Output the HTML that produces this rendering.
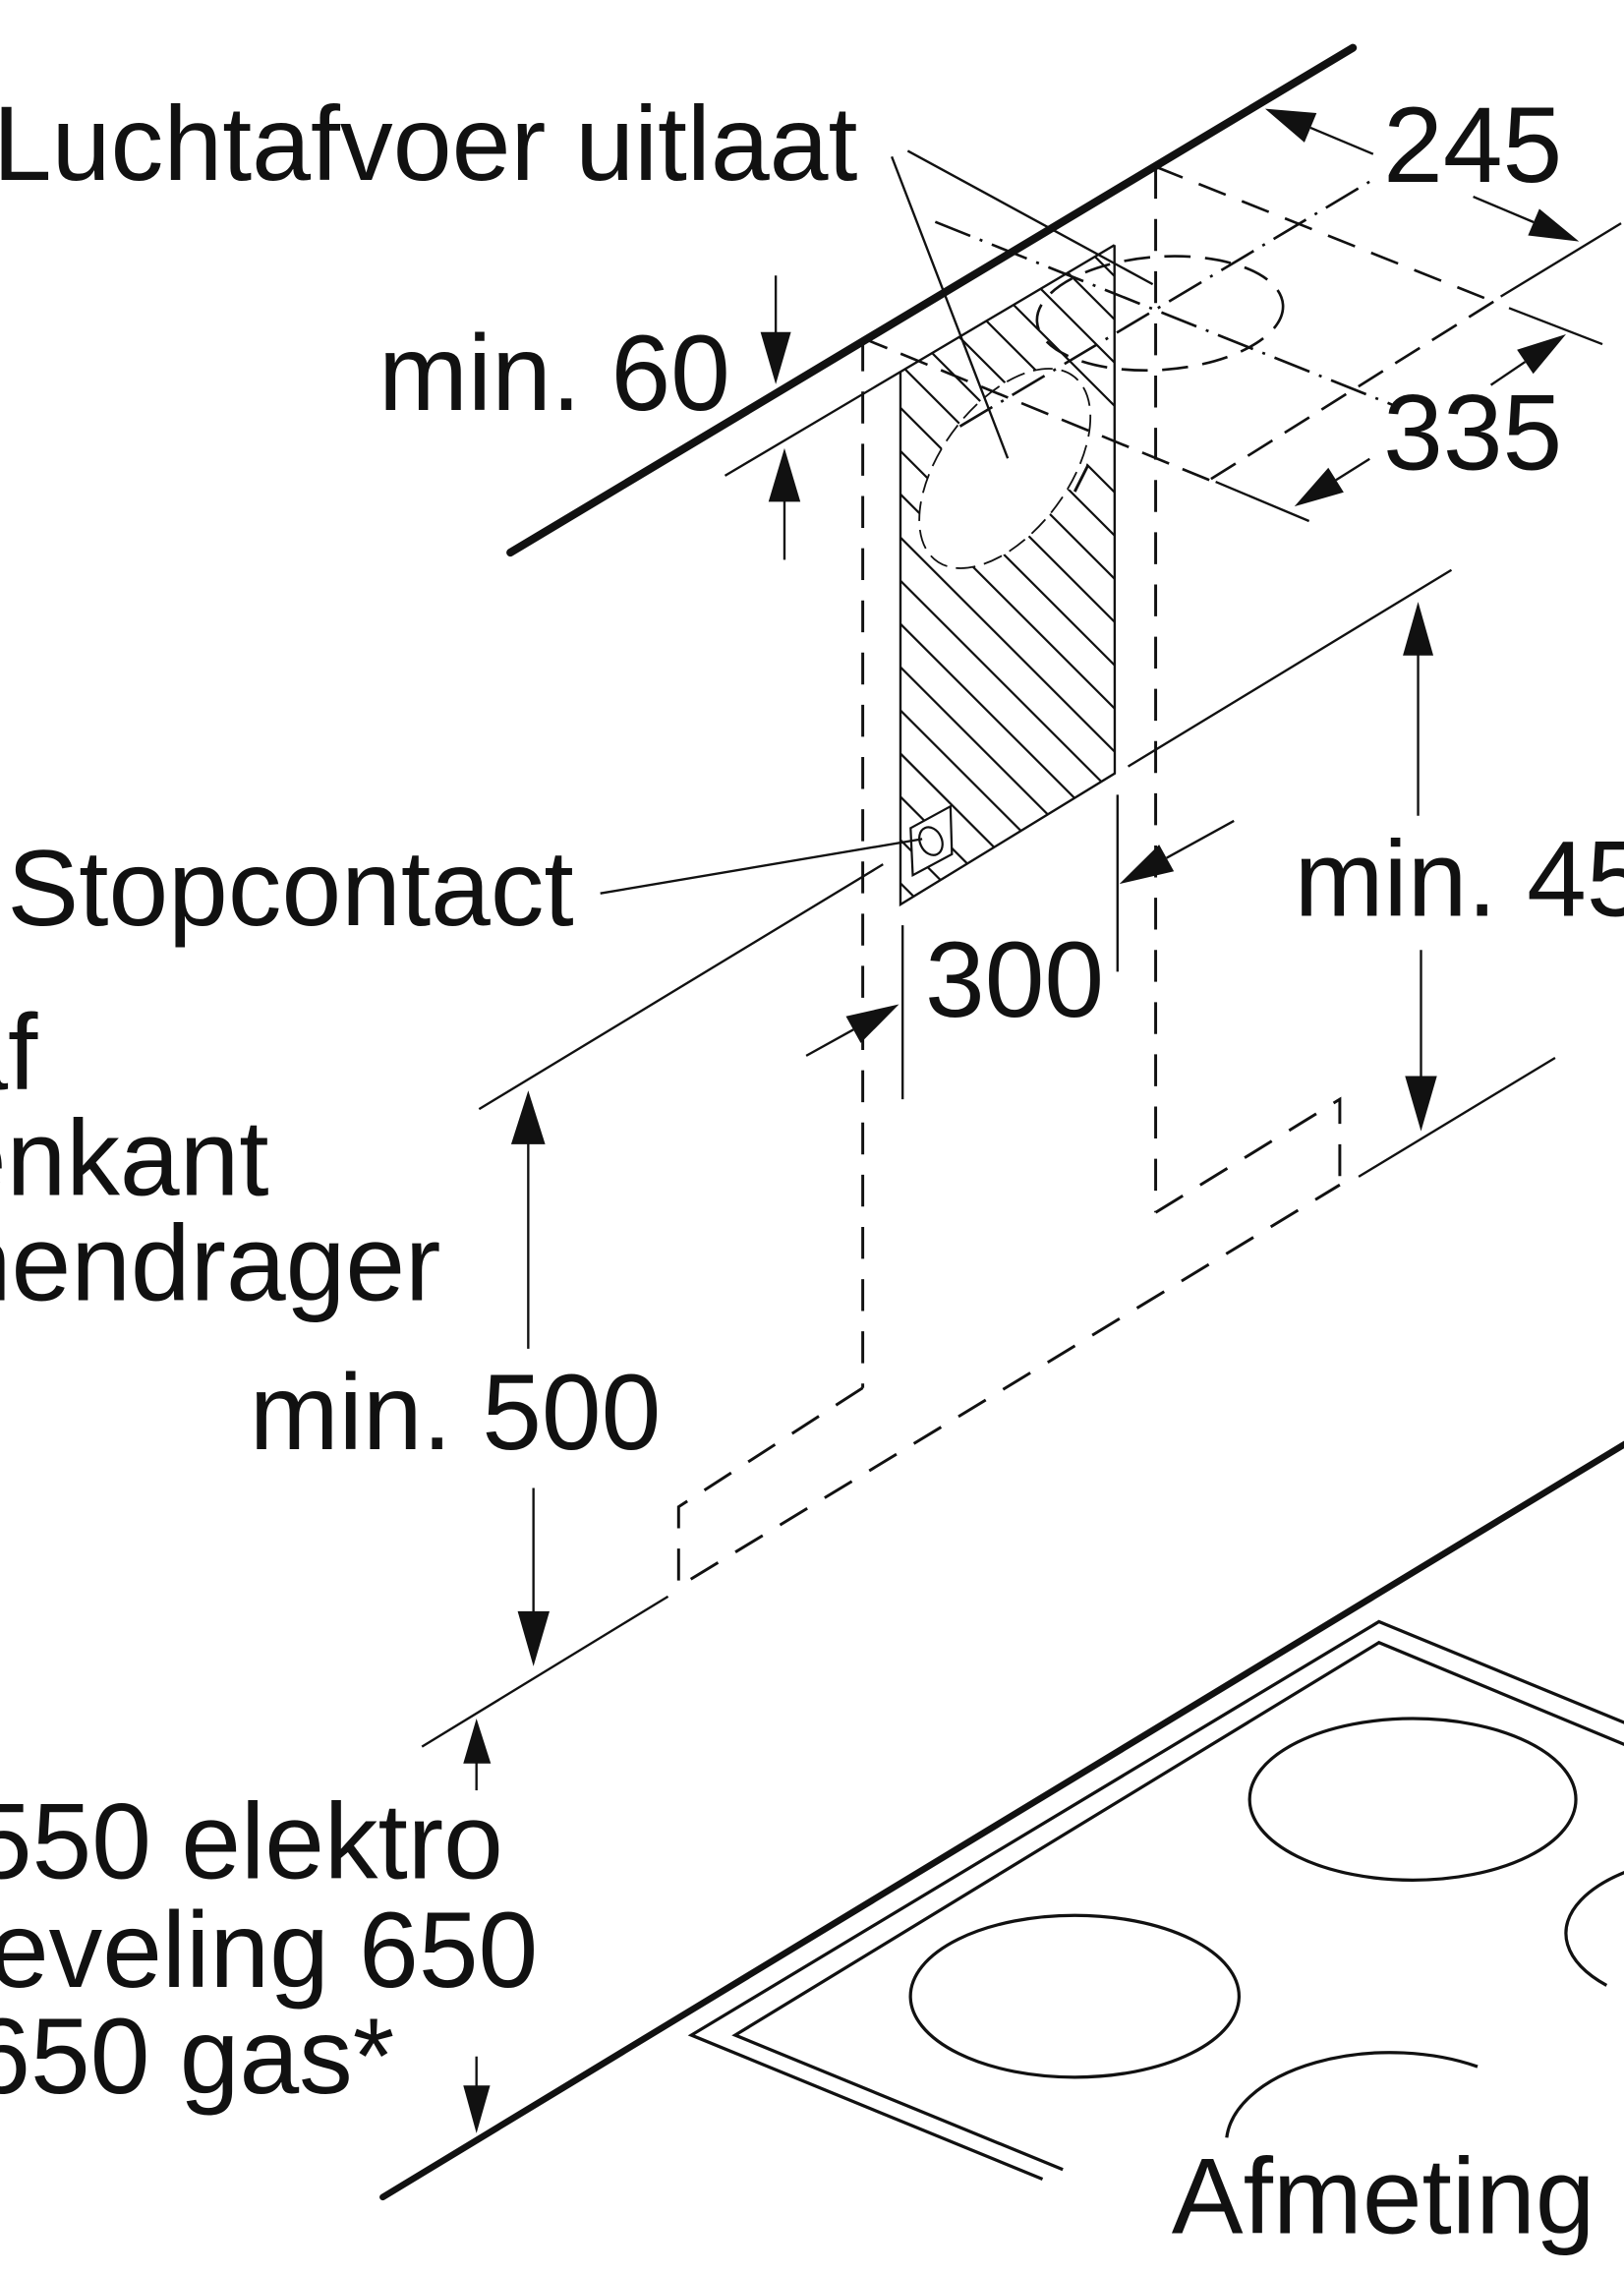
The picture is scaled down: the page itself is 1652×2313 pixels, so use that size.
<!DOCTYPE html>
<html>
<head>
<meta charset="utf-8">
<style>
html,body{margin:0;padding:0;background:#fff;}
svg{display:block;}
text{font-family:"Liberation Sans",Arial,Helvetica,sans-serif;fill:#111;}
</style>
</head>
<body>
<svg xmlns="http://www.w3.org/2000/svg" width="1652" height="2313" viewBox="0 0 1120 1568" preserveAspectRatio="none">
<defs>
  <clipPath id="panel"><polygon points="621,256.5 768.6,169 768.8,533.3 621,623.7"/></clipPath>
  <mask id="hm" maskUnits="userSpaceOnUse" x="0" y="0" width="1120" height="1568">
    <rect x="0" y="0" width="1120" height="1568" fill="#fff"/>
    <circle r="59" transform="matrix(1,-0.6,0,1,693,323)" fill="#000"/>
    <polygon points="735,249.6 768.6,282.5 768.6,336 750.3,318 741.2,338 728,336" fill="#000"/>
    <polygon points="628,571 655.5,556 656.5,589 629.5,603.5" fill="#000"/>
  </mask>
</defs>

<rect x="0" y="0" width="1120" height="1568" fill="#fff"/>

<!-- hatching -->
<g clip-path="url(#panel)">
<g mask="url(#hm)" stroke="#111" stroke-width="1.5" fill="none">
<path d="M600 21.8L790 211.8M600 51.6L790 241.6M600 81.4L790 271.4M600 111.2L790 301.2M600 141L790 331M600 170.8L790 360.8M600 200.6L790 390.6M600 230.4L790 420.4M600 260.2L790 450.2M600 290L790 480M600 319.8L790 509.8M600 349.6L790 539.6M600 379.4L790 569.4M600 409.2L790 599.2M600 439L790 629M600 468.8L790 658.8M600 498.6L790 688.6M600 528.4L790 718.4M600 558.2L790 748.2M600 588L790 778"/>
</g>
</g>

<!-- panel outline -->
<g stroke="#111" stroke-width="1.6" fill="none">
  <polyline points="768.6,169 768.8,533.3 621,623.7 621,256.5"/>
  <path d="M500 328L768.6 169"/>
  <path d="M741.2 339L750.3 320.9" stroke-width="2"/>
</g>

<!-- socket -->
<g stroke="#111" stroke-width="1.5" fill="#fff">
  <polygon points="628,571 655.5,556 656.5,589 629.5,603.5"/>
  <ellipse cx="642" cy="580" rx="7.5" ry="10" transform="rotate(-25 642 580)"/>
</g>

<!-- thick lines -->
<g stroke="#111" fill="none" stroke-linecap="round">
  <path d="M352 381L933 33" stroke-width="5.5"/>
  <path d="M264 1515L1130 990" stroke-width="4.5"/>
</g>

<!-- dashed hood outline -->
<g stroke="#111" stroke-width="2" fill="none" stroke-dasharray="22 14">
  <path d="M595 234V957"/>
  <path d="M797 115V836"/>
  <path d="M595 957L468 1039V1094L924 817"/>
  <path d="M797 836L924 758V817"/>
</g>

<!-- ceiling construction -->
<g stroke="#111" stroke-width="1.8" fill="none">
  <path d="M797 115L1030 208" stroke-dasharray="20 12"/>
  <path d="M1030 208L834 331" stroke-dasharray="20 10"/>
  <path d="M834 331L597 234" stroke-dasharray="20 10"/>
  <path d="M662 294L945 125" stroke-dasharray="26 7 2 7"/>
  <path d="M645 153L960 279" stroke-dasharray="26 7 2 7"/>
  <ellipse cx="800" cy="216" rx="85" ry="39" transform="rotate(-4 800 216)" stroke-dasharray="18 10"/>
  <circle r="59" transform="matrix(1,-0.6,0,1,693,323)" stroke-dasharray="20 9" vector-effect="non-scaling-stroke"/>
</g>

<!-- thin solid lines: leaders, extension lines, arrow shafts -->
<g stroke="#111" stroke-width="1.6" fill="none">
  <path d="M535 190L535 230"/>
  <path d="M541 386L541 345"/>
  <path d="M615 108L695 316"/>
  <path d="M626 104L795 196"/>
  <path d="M947 106.2L903.8 88.1"/>
  <path d="M1016 135.6L1057.7 153.2"/>
  <path d="M1035 204.5L1118 154"/>
  <path d="M1040.7 212.4L1105.1 237.3"/>
  <path d="M838.4 332.2L902.8 359.3"/>
  <path d="M1028.2 265.5L1051.8 249.5"/>
  <path d="M944.6 316.4L921.4 331"/>
  <path d="M778 528.5L1001 393"/>
  <path d="M937 811.4L1072.5 729.4"/>
  <path d="M978 562.5L978 450"/>
  <path d="M980 655L980 743"/>
  <path d="M414 616L636 578.5"/>
  <path d="M330.4 764.8L609 596"/>
  <path d="M291 1204.4L460.7 1100.8"/>
  <path d="M364.3 930L364.3 787"/>
  <path d="M367.9 1026L367.9 1112"/>
  <path d="M622.5 638L622.5 758"/>
  <path d="M770.7 548L770.7 670"/>
  <path d="M556 728L588.5 710"/>
  <path d="M851 566L804.5 591.6"/>
  <path d="M328.6 1234.5L328.6 1214"/>
  <path d="M328.6 1418L328.6 1440"/>
</g>

<!-- arrowheads -->
<g fill="#111" stroke="none">
  <polygon points="535,265 524.5,229 545.5,229"/>
  <polygon points="541,309 530,346 552,346"/>
  <polygon points="872.5,75 908,78 899.6,98.2"/>
  <polygon points="1089,166.5 1053.8,162.4 1061.6,144"/>
  <polygon points="1080,230.5 1057.4,257.8 1046.2,241.2"/>
  <polygon points="892.7,349.2 926.7,339.5 916.1,322.5"/>
  <polygon points="978,415 967.5,452 988.5,452"/>
  <polygon points="980,780 969,742 991,742"/>
  <polygon points="620,692.5 593.6,719.2 583.4,700.8"/>
  <polygon points="772,609.5 809.6,600.8 799.4,582.4"/>
  <polygon points="364.3,752 352.5,789 376,789"/>
  <polygon points="367.9,1149 357,1111 379,1111"/>
  <polygon points="328.6,1185 319.5,1216 338.5,1216"/>
  <polygon points="328.6,1471 319.5,1438 338,1438"/>
</g>

<!-- hob -->
<g stroke="#111" stroke-width="2.2" fill="none" stroke-linejoin="miter">
  <path d="M719 1502.6L476.8 1403.3L951 1118.2L1130 1191.8"/>
  <path d="M733 1496L507 1403.3L951 1132.6L1130 1206.9"/>
  <ellipse cx="974.3" cy="1240.7" rx="112.5" ry="55.7"/>
  <ellipse cx="741.2" cy="1376.5" rx="113.3" ry="55.8"/>
  <path d="M1108 1369A115 55 0 0 1 1195 1278"/>
  <path d="M846 1474A113 63 0 0 1 1019 1425"/>
</g>

<!-- texts -->
<g font-size="74">
  <text x="591.5" y="124" text-anchor="end" font-size="73">Luchtafvoer uitlaat</text>
  <text x="261" y="282.6">min. 60</text>
  <text x="954" y="125.5">245</text>
  <text x="954" y="323.8">335</text>
  <text x="5" y="638">Stopcontact</text>
  <text x="26" y="751" text-anchor="end">vanaf</text>
  <text x="185.5" y="824" text-anchor="end">bovenkant</text>
  <text x="304" y="896.5" text-anchor="end">pannendrager</text>
  <text x="172" y="999.3">min. 500</text>
  <text x="638" y="700.8">300</text>
  <text x="892.6" y="631.6">min. 450</text>
  <text x="347" y="1295.3" text-anchor="end">min. 550 elektro</text>
  <text x="371" y="1370" text-anchor="end">aanbeveling 650</text>
  <text x="272" y="1443.4" text-anchor="end">min. 650 gas*</text>
  <text x="808" y="1540">Afmeting</text>
</g>
</svg>
</body>
</html>
